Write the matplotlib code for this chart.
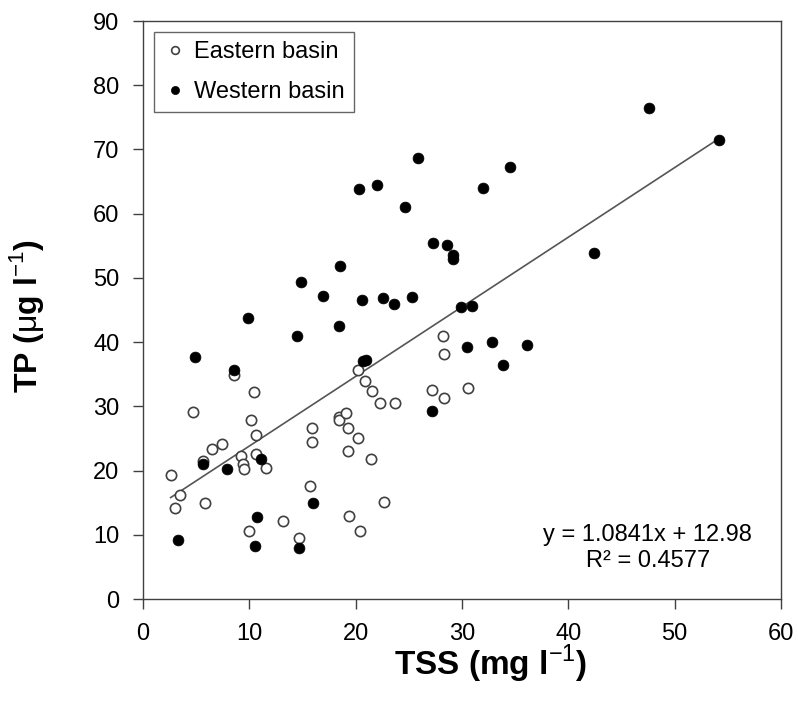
import matplotlib
matplotlib.use('Agg')

import numpy as np
import matplotlib.pyplot as plt

plt.rcParams['font.family'] = ['Liberation Sans', 'DejaVu Sans']
plt.rcParams['mathtext.fontset'] = 'custom'
plt.rcParams['mathtext.rm'] = 'Liberation Sans'
plt.rcParams['mathtext.bf'] = 'Liberation Sans:bold'

# Eastern basin (open circles)
east_tss = [2.6, 3.0, 3.5, 4.7, 5.6, 5.8, 6.5, 7.45, 8.6, 9.2, 9.4, 9.5, 10.0,
            10.2, 10.4, 10.6, 10.6, 11.6, 13.2, 14.7, 15.7, 15.9, 15.9, 18.4,
            18.4, 19.1, 19.3, 19.3, 19.4, 20.2, 20.2, 20.4, 20.9, 21.4, 21.5,
            22.3, 22.7, 23.7, 27.2, 28.2, 28.3, 28.3, 30.6]
east_tp = [19.3, 14.1, 16.2, 29.2, 21.5, 15.0, 23.4, 24.1, 34.9, 22.3, 21.0, 20.3, 10.6,
           27.9, 32.3, 25.5, 22.6, 20.4, 12.1, 9.5, 17.6, 26.7, 24.5, 28.4,
           27.8, 29.0, 26.6, 23.1, 13.0, 25.0, 35.7, 10.6, 34.0, 21.8, 32.4,
           30.5, 15.1, 30.5, 32.6, 41.0, 38.1, 31.3, 32.9]

# Western basin (filled circles)
west_tss = [3.3, 4.9, 5.6, 7.9, 8.6, 9.9, 10.5, 10.7, 11.1, 14.5, 14.7, 14.9,
            16.0, 16.9, 18.4, 18.5, 20.3, 20.6, 20.7, 20.96, 22.0, 22.6, 23.6,
            24.6, 25.3, 25.9, 27.2, 27.3, 28.6, 29.2, 29.2, 29.9, 30.5, 30.9,
            32.0, 32.8, 33.9, 34.5, 36.1, 42.4, 47.6, 54.2]
west_tp = [9.2, 37.7, 21.0, 20.3, 35.7, 43.7, 8.3, 12.7, 21.8, 41.0, 7.9, 49.4,
           14.9, 47.2, 42.5, 51.8, 63.9, 46.5, 37.0, 37.2, 64.4, 46.8, 46.0,
           61.1, 47.1, 68.6, 29.3, 55.4, 55.1, 53.6, 53.0, 45.5, 39.3, 45.7,
           64.0, 40.0, 36.5, 67.3, 39.5, 53.9, 76.4, 71.5]

slope = 1.0841
intercept = 12.98
r2 = 0.4577

fig = plt.figure(figsize=(7.98, 7.02), dpi=100)
ax = fig.add_axes([0.1792, 0.1467, 0.7995, 0.8233])

ax.plot(east_tss, east_tp, 'o', ms=7.4, mfc='white', mec='#404040', mew=1.2,
        label='Eastern basin', zorder=3)
ax.plot(west_tss, west_tp, 'o', ms=7.8, mfc='black', mec='black', mew=0.5,
        label='Western basin', zorder=3)

all_x = np.array(east_tss + west_tss)
xl = np.linspace(all_x.min(), all_x.max(), 2)
ax.plot(xl, slope * xl + intercept, color='#555555', lw=1.2, zorder=2)

ax.set_xlim(0, 60)
ax.set_ylim(0, 90)
ax.set_xticks(np.arange(0, 61, 10))
ax.set_yticks(np.arange(0, 91, 10))
ax.tick_params(direction='out', length=7, width=1, labelsize=17, color='#404040',
               top=False, right=False, pad=10)
for s in ax.spines.values():
    s.set_color('#404040')
    s.set_linewidth(1)

ax.set_xlabel(r'TSS (mg l$^{\mathrm{-1}}$)', fontsize=24, fontweight='bold')
ax.set_ylabel(r'TP ($\mathrm{\mu}$g l$^{\mathrm{-1}}$)', fontsize=23, fontweight='bold')
ax.xaxis.set_label_coords(0.545, -0.076)
ax.yaxis.set_label_coords(-0.152, 0.49)

ax.text(0.791, 0.088, 'y = %.4fx + %.2f\nR² = %.4f' % (slope, intercept, r2),
        transform=ax.transAxes, ha='center', va='center', fontsize=17,
        linespacing=1.2)

leg = ax.legend(loc='upper left', bbox_to_anchor=(0.0, 1.0), fontsize=17,
                markerscale=0.75, frameon=True, fancybox=False, edgecolor='#404040',
                handletextpad=0.3, borderpad=0.4, labelspacing=0.75,
                handlelength=1.0, borderaxespad=0.45)
leg.get_frame().set_linewidth(1)

plt.savefig('out.png', dpi=100)
